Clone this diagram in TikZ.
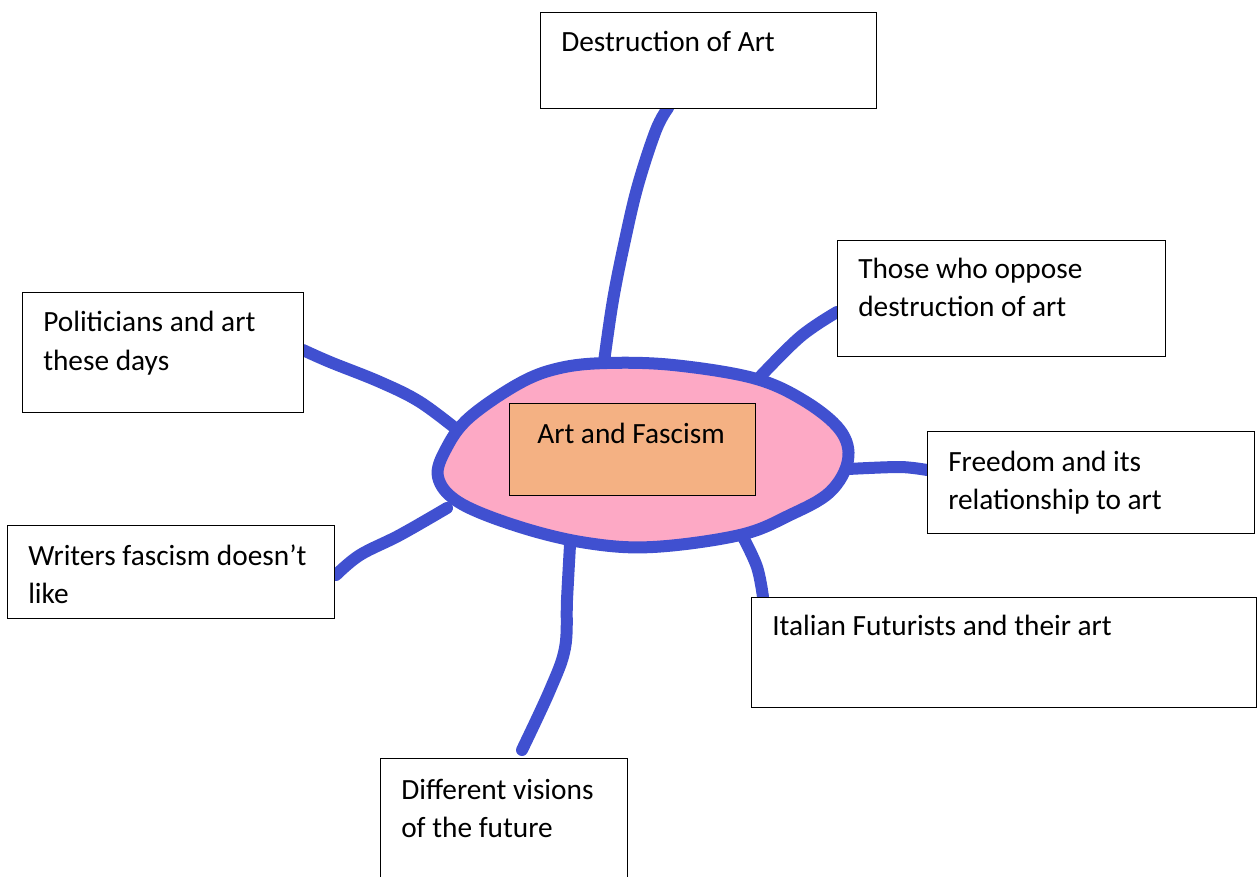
\documentclass[tikz,border=0pt]{standalone}
\usepackage{fontspec}
\setmainfont{Carlito}
\usepackage{tikz}
\definecolor{penblue}{HTML}{4050D0}
\definecolor{blobpink}{HTML}{FDA9C5}
\definecolor{coreorange}{HTML}{F4B183}

\begin{document}
\begin{tikzpicture}[x=0.75pt,y=-0.75pt,
  pen/.style={penblue,line width=9pt,line cap=round,line join=round},
  topicbox/.style={draw,line width=1.1pt,fill=white,anchor=north west,inner sep=0pt},
  lbl/.style={anchor=base west,align=left,inner sep=0pt,font=\fontsize{22}{28.5}\selectfont}]
\clip (0,0) rectangle (1257,877);
\fill[white] (0,0) rectangle (1257,877);

\draw[pen] plot[smooth,tension=0.6] coordinates {(604,362) (613,300) (625,240) (638,185) (656,130) (668,108)};
\draw[pen] plot[smooth,tension=0.6] coordinates {(757,380) (800,337) (837,312)};
\draw[pen] plot[smooth,tension=0.5] coordinates {(848,469) (900,467) (927,470)};
\draw[pen] plot[smooth,tension=0.6] coordinates {(743,537) (757,567) (763,597)};
\draw[pen] plot[smooth,tension=0.6] coordinates {(303,350) (330,362) (380,382) (420,402) (460,432)};
\draw[pen] plot[smooth,tension=0.6] coordinates {(336,575) (360,555) (400,535) (447,508)};
\draw[pen] plot[smooth,tension=0.6] coordinates {(570,545) (567,600) (565,648) (550,690) (522,750)};

\draw[pen,fill=blobpink] plot[smooth cycle,tension=0.6] coordinates {(607,363) (673,365) (753,378) (803,400) (840,430) (848,460) (830,492) (790,515) (740,535) (653,547) (587,543) (520,527) (460,503) (438,477) (447,447) (470,417) (520,383) (560,368)};

\node[draw,line width=1.1pt,fill=coreorange,anchor=north west,minimum width=246*0.75pt,minimum height=92*0.75pt] (core) at (509,403) {};
\node[anchor=base,inner sep=0pt,font=\fontsize{22}{28.5}\selectfont] (coretxt) at (631,443) {Art and Fascism};

\node[topicbox,minimum width=336*0.75pt,minimum height=96*0.75pt] (destr) at (540,12) {};
\node[lbl] (destrtxt) at (561,52) {Destruction of Art};
\node[topicbox,minimum width=328*0.75pt,minimum height=116*0.75pt] (oppose) at (837,240) {};
\node[lbl] (opposetxt) at (858,317) {Those who oppose\\destruction of art};
\node[topicbox,minimum width=281*0.75pt,minimum height=120*0.75pt] (polit) at (22,292) {};
\node[lbl] (polittxt) at (43,370) {Politicians and art\\these days};
\node[topicbox,minimum width=327*0.75pt,minimum height=102*0.75pt] (free) at (927,431) {};
\node[lbl] (freetxt) at (948,509) {Freedom and its\\relationship to art};
\node[topicbox,minimum width=327*0.75pt,minimum height=93*0.75pt] (writ) at (7,525) {};
\node[lbl] (writtxt) at (28,603) {Writers fascism doesn’t\\like};
\node[topicbox,minimum width=505*0.75pt,minimum height=110*0.75pt] (futur) at (751,597) {};
\node[lbl] (futurtxt) at (772,635) {Italian Futurists and their art};
\node[topicbox,minimum width=247*0.75pt,minimum height=140*0.75pt] (vision) at (380,758) {};
\node[lbl] (visiontxt) at (401,837) {Different visions\\of the future};

\end{tikzpicture}
\end{document}
